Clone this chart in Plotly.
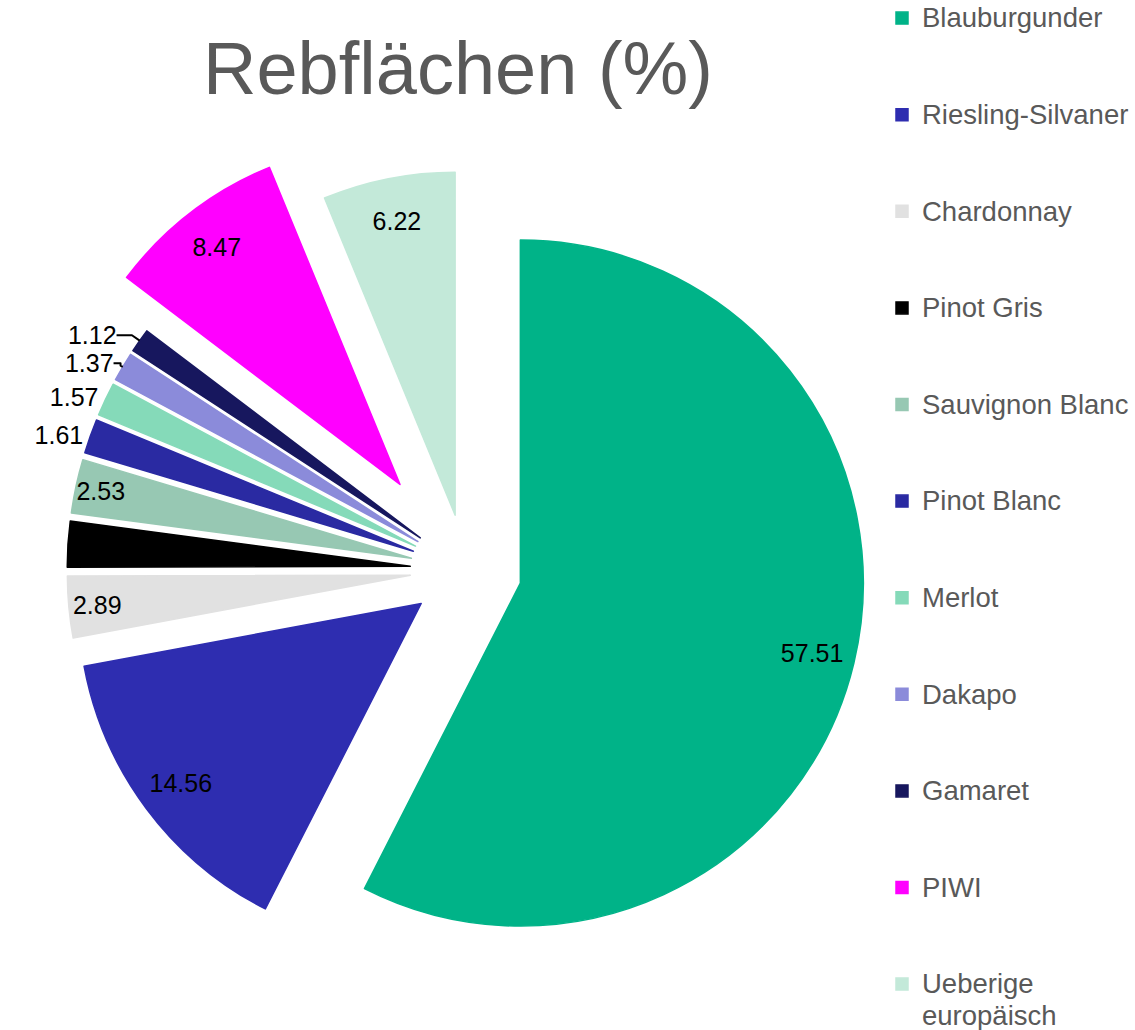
import plotly.graph_objects as go

# ---- data ----
categories = ["Blauburgunder", "Riesling-Silvaner", "Chardonnay", "Pinot Gris",
              "Sauvignon Blanc", "Pinot Blanc", "Merlot", "Dakapo", "Gamaret",
              "PIWI", "Ueberige europäisch"]
shares = [57.51, 14.56, 2.89, 2.15, 2.53, 1.61, 1.57, 1.37, 1.12, 8.47, 6.22]

# ---- styles ----
colors = ["#00B388", "#2E2DB0", "#E1E1E1", "#000000", "#97C8B3", "#2A2AA2",
          "#85DAB9", "#8B8BDA", "#17175E", "#FF00FF", "#C3E9D9"]
pulls = [0.163, 0.163, 0.163, 0.163, 0.163, 0.163, 0.163, 0.163, 0.163, 0.315, 0.163]
# 'edge': placed near the outer edge (auto orientation); 'inside'/'outside': thin slices
label_mode = ["edge", "edge", "inside", "edge", "inside", "outside", "outside",
              "outside", "outside", "edge", "edge"]

FONT = "Liberation Sans, Arial, sans-serif"
GREY = "#595959"


def legend_label(name):
    parts = name.split(" ") if len(name) > 16 else [name]
    lines = ['<span style="font-size:27.5px">%s</span>' % p for p in parts]
    if len(lines) == 1:
        lines += ["\u00a0", "\u00a0"]
    return "<br>".join(lines)


labels = [legend_label(c) for c in categories]

common = dict(labels=labels, values=shares, pull=pulls, sort=False,
              direction="clockwise", rotation=0,
              domain=dict(x=[0, 1], y=[0, 1]))

fig = go.Figure()

# base pie with coloured slices
fig.add_trace(go.Pie(
    **common,
    marker=dict(colors=colors, line=dict(width=1.5, color=colors)),
    textinfo="none",
    customdata=categories,
    hovertemplate="%{customdata}: %{value:.2f}<extra></extra>",
    showlegend=True,
))

transparent = ["rgba(0,0,0,0)"] * len(shares)

# overlay for the labels placed near the outer edge
fig.add_trace(go.Pie(
    **common,
    hole=0.75,
    marker=dict(colors=transparent, line=dict(width=0)),
    texttemplate=["%{value:.2f}" if m == "edge" else "" for m in label_mode],
    textposition=["inside" if m == "edge" else "none" for m in label_mode],
    insidetextorientation="auto",
    textfont=dict(family=FONT, size=25, color="black"),
    hoverinfo="skip",
    showlegend=False,
))

# overlay for the labels of the thin slices
fig.add_trace(go.Pie(
    **common,
    hole=0.75,
    marker=dict(colors=transparent, line=dict(width=0)),
    texttemplate=["%{value:.2f}" if m != "edge" else "" for m in label_mode],
    textposition=[m if m != "edge" else "none" for m in label_mode],
    insidetextorientation="horizontal",
    textfont=dict(family=FONT, size=25, color="black"),
    insidetextfont=dict(family=FONT, size=25, color="black"),
    outsidetextfont=dict(family=FONT, size=25, color="black"),
    hoverinfo="skip",
    showlegend=False,
))

# plot area: l=15, t=119, 902 x 902 px
PLOT_L, PLOT_T, PLOT_S = 15, 119, 902

fig.update_layout(
    width=1135,
    height=1030,
    paper_bgcolor="white",
    plot_bgcolor="white",
    font=dict(family=FONT, color=GREY),
    margin=dict(l=PLOT_L, r=1135 - PLOT_L - PLOT_S, t=PLOT_T,
                b=1030 - PLOT_T - PLOT_S, autoexpand=False),
    uniformtext=dict(minsize=25, mode="show"),
    title=dict(
        text="Rebflächen (%)",
        font=dict(family=FONT, size=74, color=GREY),
        xref="container", yref="container",
        x=458 / 1135, xanchor="center",
        y=1 - 42 / 1030, yanchor="top",
    ),
    legend=dict(
        xref="paper", yref="paper",
        x=(882 - PLOT_L) / PLOT_S, xanchor="left",
        y=1 + (PLOT_T + 4) / PLOT_S, yanchor="top",
        font=dict(family=FONT, size=24, color=GREY),
        valign="top",
        bgcolor="rgba(0,0,0,0)",
        borderwidth=0,
        maxheight=1200,
    ),
)

fig.write_html("out.html", config={"displayModeBar": False},
               post_script="document.body.style.margin='0';")
